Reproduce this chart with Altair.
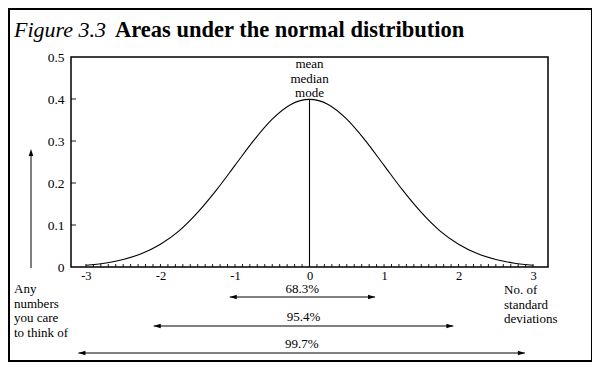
import altair as alt
import pandas as pd

# ---- data ----
curve_x = [-3.0, -2.75, -2.5, -2.25, -2.0, -1.75, -1.5, -1.25, -1.0, -0.75, -0.5, -0.25,
           0.0, 0.25, 0.5, 0.75, 1.0, 1.25, 1.5, 1.75, 2.0, 2.25, 2.5, 2.75, 3.0]
curve_y = [0.004, 0.009, 0.018, 0.032, 0.054, 0.086, 0.130, 0.183, 0.242, 0.301, 0.352, 0.387,
           0.399, 0.387, 0.352, 0.301, 0.242, 0.183, 0.130, 0.086, 0.054, 0.032, 0.018, 0.009, 0.004]
x_labels = [-3, -2, -1, 0, 1, 2, 3]
y_labels = [0, 0.1, 0.2, 0.3, 0.4, 0.5]
y_minor = [0.1, 0.2, 0.3, 0.4]
x_minor = [i / 10 for i in range(-30, 31)]
arrow_labels = ["68.3%", "95.4%", "99.7%"]
arrow_lo = [-1.07, -2.09, -3.10]
arrow_hi = [0.88, 1.93, 2.89]
peak = 0.399

FONT = "Liberation Serif"
W, H = 477, 210
ARROW_Y = [240, 269, 296]
LABEL_Y = [232, 260, 287]

xscale = alt.Scale(domain=[-3.2, 3.2], nice=False, zero=False)
yscale = alt.Scale(domain=[0, 0.5], nice=False)

curve_df = pd.DataFrame({"x": curve_x, "density": curve_y})

curve = alt.Chart(curve_df).mark_line(color="black", strokeWidth=1.1, interpolate="monotone").encode(
    x=alt.X("x:Q", scale=xscale, title=None,
            axis=alt.Axis(values=x_labels, ticks=False, domain=False, grid=False,
                          labelFont=FONT, labelFontSize=12.5, labelPadding=2, labelColor="black",
                          labelExpr="toString(datum.value)", title=None)),
    y=alt.Y("density:Q", scale=yscale, title=None,
            axis=alt.Axis(values=y_labels, ticks=False, domain=False, grid=False,
                          labelFont=FONT, labelFontSize=13.5, labelPadding=7, labelColor="black",
                          labelExpr="toString(datum.value)", title=None)),
)

center = alt.Chart(pd.DataFrame({"x": [0.0], "y0": [0.0], "y1": [peak]})).mark_rule(
    color="black", strokeWidth=1.1).encode(
    x=alt.X("x:Q", title=None), y=alt.Y("y0:Q", title=None), y2="y1:Q")

xticks = alt.Chart(pd.DataFrame({"t": x_minor})).mark_rule(color="black", strokeWidth=0.9).encode(
    x=alt.X("t:Q", title=None), y=alt.value(H - 3), y2=alt.value(H))

yticks = alt.Chart(pd.DataFrame({"t": y_minor})).mark_rule(color="black", strokeWidth=0.9).encode(
    y=alt.Y("t:Q", title=None), x=alt.value(0), x2=alt.value(5))

layers = [curve, center, xticks, yticks]

LEFT_HEAD = "M0,0 L2,-0.65 L2,0.65 Z"
RIGHT_HEAD = "M0,0 L-2,-0.65 L-2,0.65 Z"
UP_HEAD = "M0,0 L-0.65,2 L0.65,2 Z"
HEAD_SIZE = 49

for lab, lo, hi, ay, ly in zip(arrow_labels, arrow_lo, arrow_hi, ARROW_Y, LABEL_Y):
    d = pd.DataFrame({"lo": [lo], "hi": [hi], "mid": [(lo + hi) / 2], "label": [lab]})
    base = alt.Chart(d)
    layers.append(base.mark_rule(color="black", strokeWidth=1).encode(
        x=alt.X("lo:Q", title=None), x2="hi:Q", y=alt.value(ay)))
    layers.append(base.mark_point(shape=LEFT_HEAD, filled=True, color="black", size=HEAD_SIZE,
                                  opacity=1, strokeWidth=0).encode(
        x=alt.X("lo:Q", title=None), y=alt.value(ay)))
    layers.append(base.mark_point(shape=RIGHT_HEAD, filled=True, color="black", size=HEAD_SIZE,
                                  opacity=1, strokeWidth=0).encode(
        x=alt.X("hi:Q", title=None), y=alt.value(ay)))
    layers.append(base.mark_text(font=FONT, fontSize=13, color="black", baseline="middle").encode(
        x=alt.X("mid:Q", title=None), y=alt.value(ly), text="label:N"))

dummy = alt.Chart(pd.DataFrame({"a": [0]}))

# vertical arrow on the left
layers.append(dummy.mark_rule(color="black", strokeWidth=1).encode(
    x=alt.value(-40), y=alt.value(211), y2=alt.value(96)))
layers.append(dummy.mark_point(shape=UP_HEAD, filled=True, color="black", size=HEAD_SIZE,
                               opacity=1, strokeWidth=0).encode(
    x=alt.value(-40), y=alt.value(92)))

# texts
layers.append(alt.Chart(pd.DataFrame({"x": [0.0]})).mark_text(
    font=FONT, fontSize=13, color="black", baseline="top", lineHeight=14.5, align="center").encode(
    x=alt.X("x:Q", title=None), y=alt.value(1), text=alt.value(["mean", "median", "mode"])))
layers.append(dummy.mark_text(font=FONT, fontSize=13, color="black", baseline="top",
                              lineHeight=14.7, align="left").encode(
    x=alt.value(-57), y=alt.value(226), text=alt.value(["Any", "numbers", "you care", "to think of"])))
layers.append(dummy.mark_text(font=FONT, fontSize=13, color="black", baseline="top",
                              lineHeight=14.7, align="left").encode(
    x=alt.value(433), y=alt.value(227), text=alt.value(["No. of", "standard", "deviations"])))

# title
layers.append(dummy.mark_text(font=FONT, fontSize=22, fontStyle="italic", color="black",
                              baseline="alphabetic", align="left").encode(
    x=alt.value(-57), y=alt.value(-20), text=alt.value("Figure 3.3")))
layers.append(dummy.mark_text(font=FONT, fontSize=22.5, fontWeight="bold", color="black",
                              baseline="alphabetic", align="left").encode(
    x=alt.value(44), y=alt.value(-20), text=alt.value("Areas under the normal distribution")))

# outer frame
layers.append(dummy.mark_rect(fill=None, stroke="black", strokeWidth=2).encode(
    x=alt.value(-62), x2=alt.value(521), y=alt.value(-48), y2=alt.value(304)))

chart = alt.layer(*layers).properties(
    width=W, height=H,
    autosize=alt.AutoSizeParams(type="none"),
    padding={"left": 63, "top": 49, "right": 44, "bottom": 98},
).configure(background="white").configure_view(stroke="black", strokeWidth=1.5)

chart.save("out.html", embed_options={"renderer": "svg", "actions": False})
